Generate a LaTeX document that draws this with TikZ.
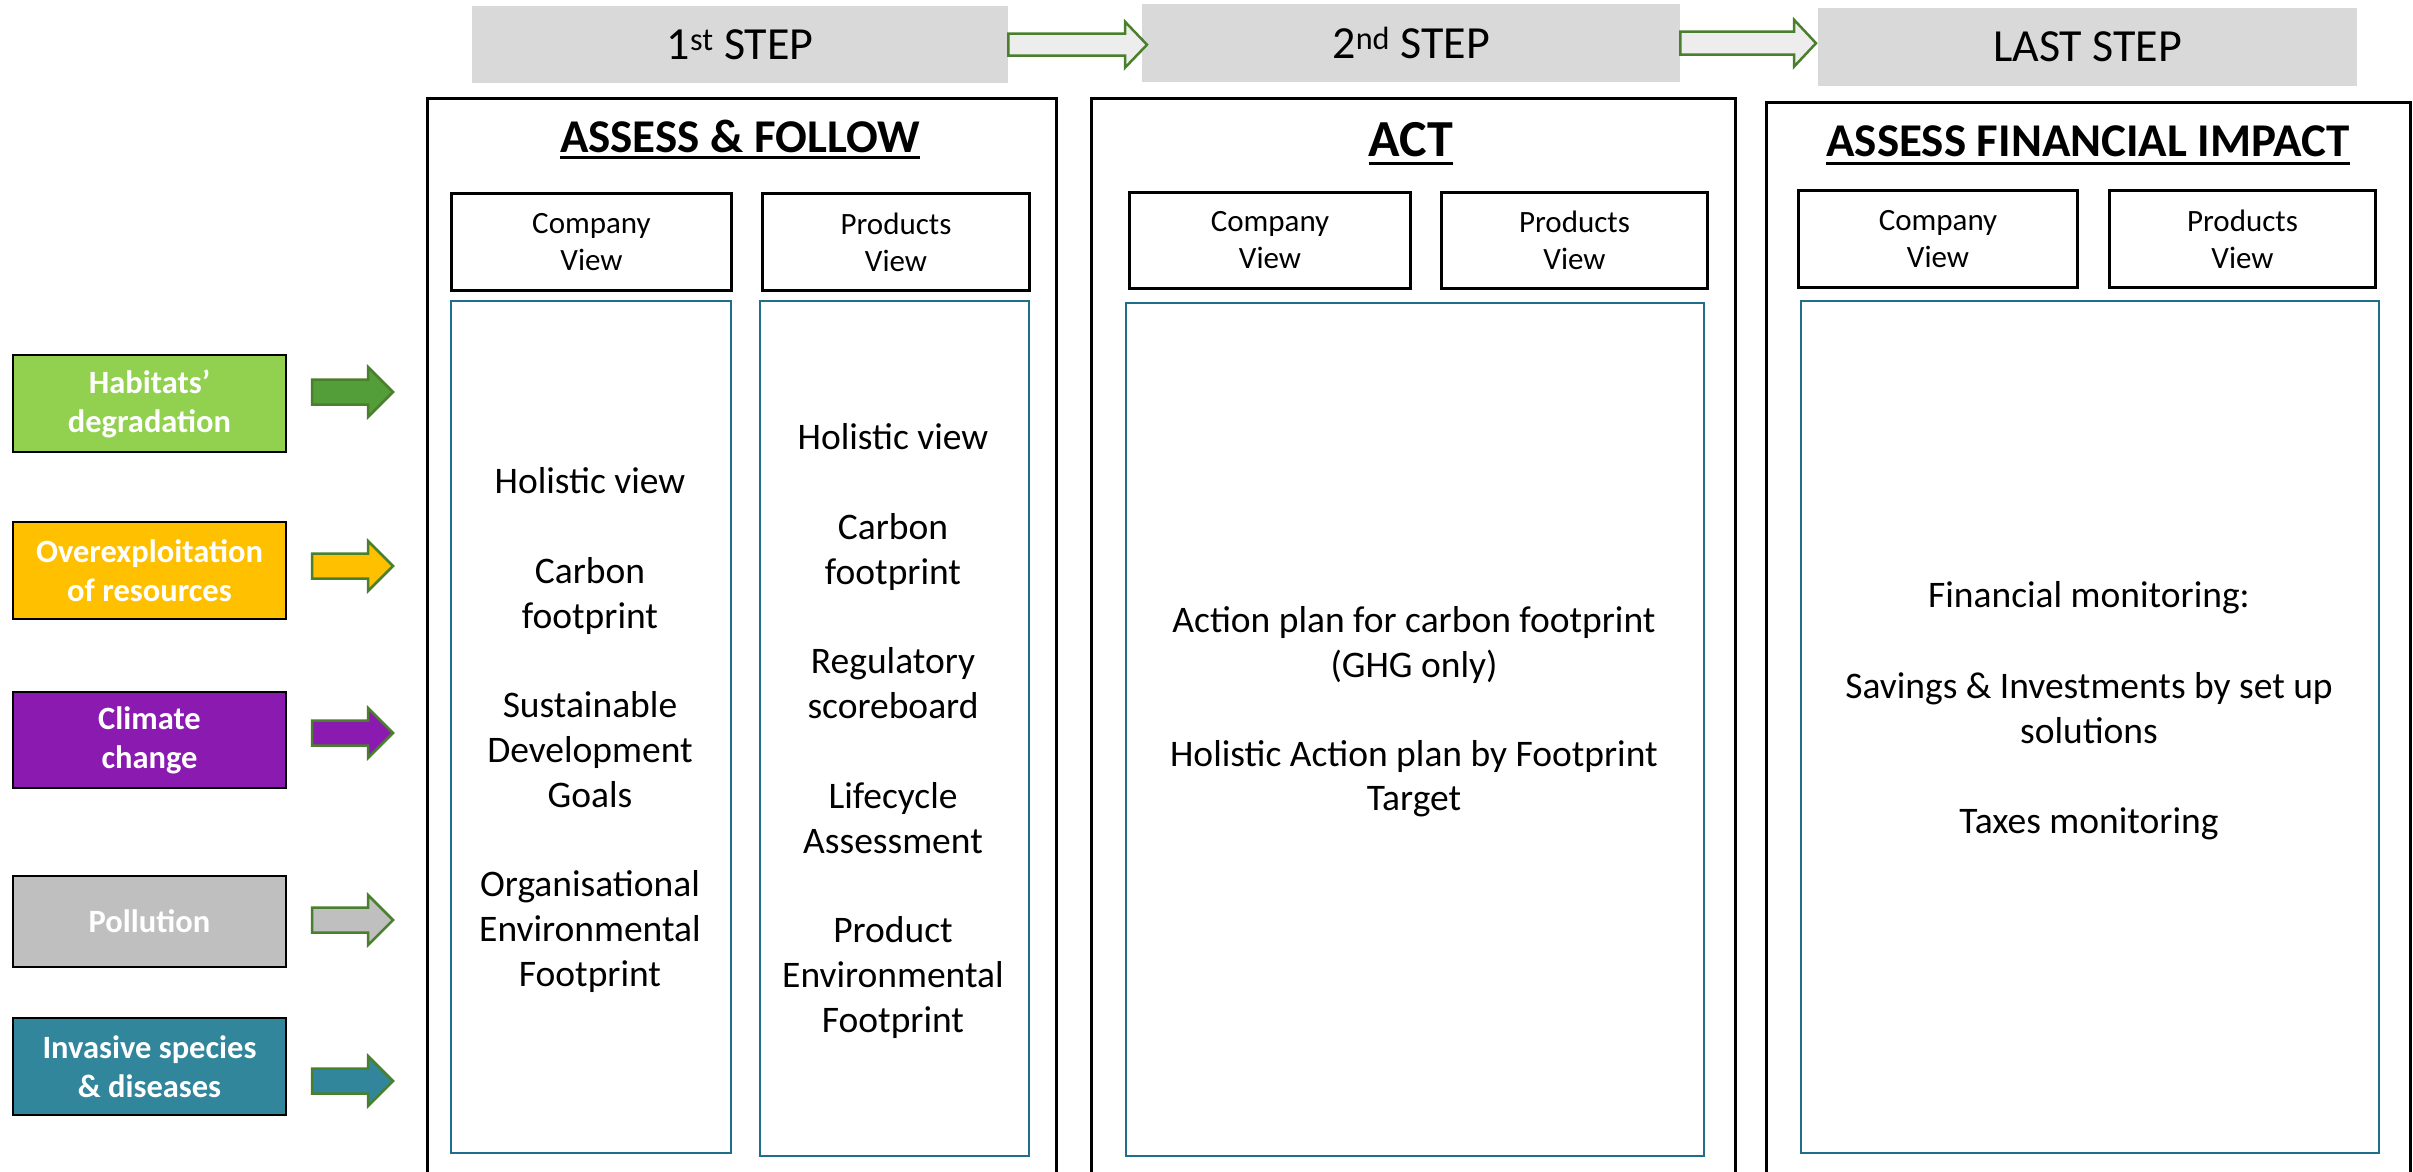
\documentclass[tikz,border=0pt]{standalone}
\usepackage{fontspec}
\setmainfont{Carlito}
\usetikzlibrary{calc}
\definecolor{stepgray}{HTML}{D9D9D9}
\definecolor{arrfill}{HTML}{EDEDED}
\definecolor{arrgreen}{HTML}{4A7F2E}
\definecolor{tealbox}{HTML}{1F6E8C}
\definecolor{habc}{HTML}{92D050}
\definecolor{overc}{HTML}{FFC000}
\definecolor{climc}{HTML}{8B1AB0}
\definecolor{pollc}{HTML}{BFBFBF}
\definecolor{invc}{HTML}{31869B}
\definecolor{habarrow}{HTML}{549E39}
\newcommand\blkarrow[6]{%
  \path[blockarr, fill=#6] let \p1=(#1), \p2=(#2) in
    (\x1,\y1+#3) -- (\x2-#5,\y1+#3) -- (\x2-#5,\y1+#4) -- (\x2,\y1)
    -- (\x2-#5,\y1-#4) -- (\x2-#5,\y1-#3) -- (\x1,\y1-#3) -- cycle;}
\begin{document}
\begin{tikzpicture}[x=1pt,y=-1pt,
  stepbox/.style={fill=stepgray, draw=none, inner sep=0, anchor=north west, font=\fontsize{46}{55}\selectfont},
  panel/.style={draw=black, line width=2.5pt, inner sep=0, anchor=north west},
  viewbox/.style={draw=black, line width=3pt, inner sep=0, anchor=north west, align=center, font=\fontsize{31}{37}\selectfont},
  contentbox/.style={draw=tealbox, line width=2pt, inner sep=0, anchor=north west},
  bodytext/.style={align=center, font=\fontsize{37.5}{44.7}\selectfont, inner sep=0},
  titletext/.style={font=\fontsize{47}{56}\selectfont\bfseries, inner sep=0, anchor=base},
  threat/.style={draw=black, line width=2pt, inner sep=0, anchor=north west, text=white, align=center, minimum width=273pt, font=\fontsize{32.5}{39}\selectfont\bfseries},
  blockarr/.style={draw=arrgreen, line width=2.5pt, line join=miter},
]
\useasboundingbox (0,0) rectangle (2413,1171);
\fill[white] (0,0) rectangle (2413,1171);

% step boxes
\node[stepbox, minimum width=536pt, minimum height=77pt] (s1) at (472,6) {1\textsuperscript{st} STEP};
\node[stepbox, minimum width=538pt, minimum height=78pt] (s2) at (1142,4) {2\textsuperscript{nd} STEP};
\node[stepbox, minimum width=539pt, minimum height=78pt] (s3) at (1818,8) {LAST STEP};
\coordinate (a1tip) at (1147,43);
\coordinate (a2tip) at (1816,47);
\blkarrow{s1.east}{a1tip}{11pt}{23pt}{22pt}{arrfill}
\blkarrow{s2.east}{a2tip}{11.5pt}{23.5pt}{22pt}{arrfill}

% panels
\node[panel, minimum width=629pt, minimum height=1110pt] (p1) at (426,97) {};
\node[panel, minimum width=644pt, minimum height=1110pt] (p2) at (1090,97) {};
\node[panel, minimum width=644pt, minimum height=1110pt] (p3) at (1765,101) {};

% titles
\node[titletext] (t1) at (740,152) {ASSESS \& FOLLOW};
\node[titletext, font=\fontsize{52}{60}\selectfont\bfseries] (t2) at (1411,156) {ACT};
\node[titletext] (t3) at (2088,156) {ASSESS FINANCIAL IMPACT};
\draw[line width=3pt] ([yshift=-5pt]t1.base west) -- ([yshift=-5pt]t1.base east);
\draw[line width=3pt] ([yshift=-7pt]t2.base west) -- ([yshift=-7pt]t2.base east);
\draw[line width=3pt] ([yshift=-7pt]t3.base west) -- ([yshift=-7pt]t3.base east);

% view boxes
\node[viewbox, minimum width=280pt, minimum height=97pt] (cv1) at (450,192) {Company\\View};
\node[viewbox, minimum width=267pt, minimum height=97pt] (pv1) at (761,192) {Products\\View};
\node[viewbox, minimum width=281pt, minimum height=96pt] (cv2) at (1128,191) {Company\\View};
\node[viewbox, minimum width=266pt, minimum height=96pt] (pv2) at (1440,191) {Products\\View};
\node[viewbox, minimum width=279pt, minimum height=97pt] (cv3) at (1797,189) {Company\\View};
\node[viewbox, minimum width=266pt, minimum height=97pt] (pv3) at (2108,189) {Products\\View};

% content boxes
\node[contentbox, minimum width=280pt, minimum height=852pt] (cb1) at (450,300) {};
\node[contentbox, minimum width=269pt, minimum height=855pt] (pb1) at (759,300) {};
\node[contentbox, minimum width=578pt, minimum height=853pt] (cb2) at (1125,302) {};
\node[contentbox, minimum width=578pt, minimum height=852pt] (cb3) at (1800,300) {};

\node[bodytext] (b1) at (590,730) {Holistic view\\[45pt]Carbon\\footprint\\[45pt]Sustainable\\Development\\Goals\\[45pt]Organisational\\Environmental\\Footprint};
\node[bodytext] (b2) at (893,731) {Holistic view\\[45pt]Carbon\\footprint\\[45pt]Regulatory\\scoreboard\\[45pt]Lifecycle\\Assessment\\[45pt]Product\\Environmental\\Footprint};
\node[bodytext] (b3) at (1414,712) {Action plan for carbon footprint\\(GHG only)\\[44pt]Holistic Action plan by Footprint\\Target};
\node[bodytext] (b4) at (2089,711) {Financial monitoring:\\[46pt]Savings \& Investments by set up\\solutions\\[46pt]Taxes monitoring};

% threats
\node[threat, fill=habc, minimum height=97pt] (hab) at (12,354) {Habitats’\\degradation};
\node[threat, fill=overc, minimum height=97pt] (over) at (12,521) {Overexploitation\\of resources};
\node[threat, fill=climc, minimum height=96pt] (clim) at (12,691) {Climate\\change};
\node[threat, fill=pollc, minimum height=91pt] (poll) at (12,875) {Pollution};
\node[threat, fill=invc, minimum height=97pt] (inv) at (12,1017) {Invasive species\\\& diseases};

\coordinate (ha) at (312,392);  \coordinate (hb) at (393,392);
\coordinate (oa) at (312,566);  \coordinate (ob) at (393,566);
\coordinate (ca) at (312,733);  \coordinate (cb) at (393,733);
\coordinate (pa) at (312,920);  \coordinate (pb) at (393,920);
\coordinate (ia) at (312,1081); \coordinate (ib) at (393,1081);
\blkarrow{ha}{hb}{12.5pt}{25pt}{25pt}{habarrow}
\blkarrow{oa}{ob}{12.5pt}{25pt}{25pt}{overc}
\blkarrow{ca}{cb}{12.5pt}{25pt}{25pt}{climc}
\blkarrow{pa}{pb}{12.5pt}{25pt}{25pt}{pollc}
\blkarrow{ia}{ib}{12.5pt}{25pt}{25pt}{invc}
\end{tikzpicture}
\end{document}
